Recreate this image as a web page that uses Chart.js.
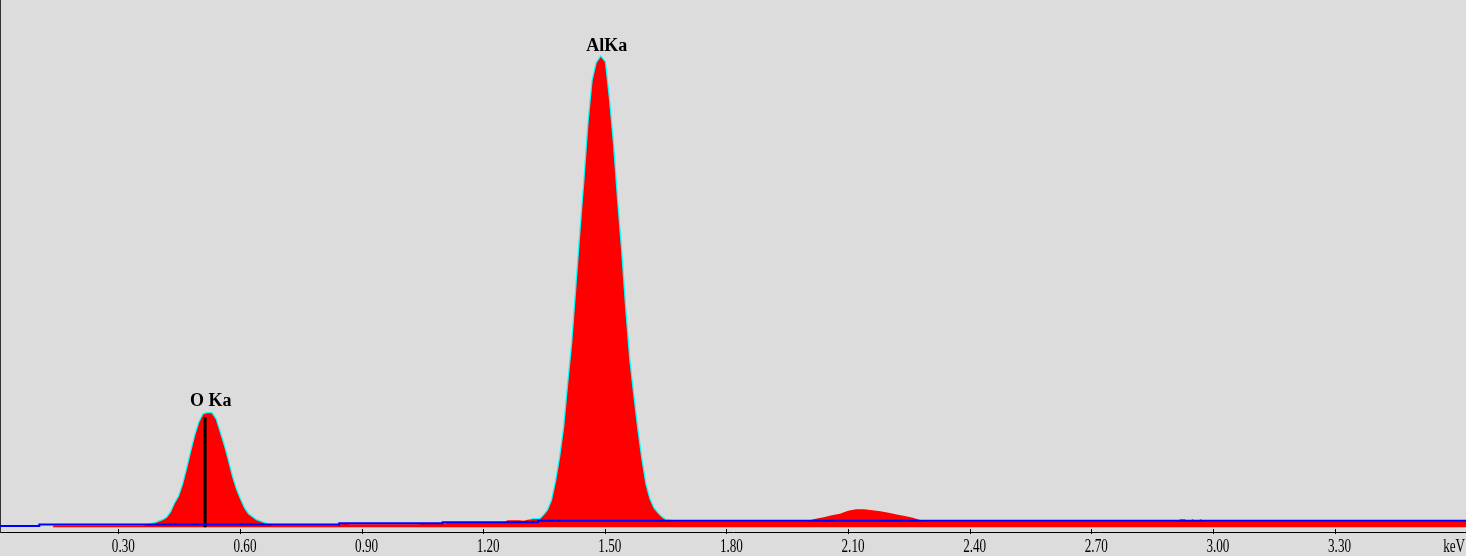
<!DOCTYPE html>
<html>
<head>
<meta charset="utf-8">
<script src="https://cdn.jsdelivr.net/npm/chart.js@4.4.1/dist/chart.umd.min.js"></script>
<style>
  html, body { margin: 0; padding: 0; background: #dcdcdc; overflow: hidden; }
  canvas { display: block; }
</style>
</head>
<body>
<canvas id="eds" width="1466" height="556"></canvas>
<script>
// spectrum (keV / counts)
const spectrumEnergy = [
  0.138, 0.14, 0.36,
  0.37, 0.38, 0.39, 0.40, 0.41, 0.42, 0.43, 0.44, 0.45, 0.46, 0.47, 0.48, 0.49, 0.50, 0.51, 0.52,
  0.53, 0.54, 0.55, 0.56, 0.57, 0.58, 0.59, 0.60, 0.61, 0.62, 0.63, 0.64, 0.65, 0.66, 0.67,
  0.68, 0.84, 0.85, 0.86, 0.87, 1.04, 1.05, 1.10, 1.11, 1.25,
  1.26, 1.27, 1.28, 1.29, 1.30, 1.31, 1.32, 1.33,
  1.34, 1.35, 1.36, 1.37, 1.38, 1.39, 1.40, 1.41, 1.42, 1.43, 1.44, 1.45, 1.46, 1.47, 1.48, 1.49, 1.50,
  1.51, 1.52, 1.53, 1.54, 1.55, 1.56, 1.57, 1.58, 1.59, 1.60, 1.61, 1.62, 1.63, 1.64, 1.65, 1.66,
  1.67, 2.00, 2.01,
  2.02, 2.04, 2.06, 2.08, 2.10, 2.12, 2.14, 2.16, 2.18, 2.20, 2.22, 2.24, 2.26, 2.28,
  2.29, 2.91, 2.92, 2.93, 2.94, 2.95, 2.96, 2.97, 2.98, 3.63
];
const spectrumCounts = [
  0, 17, 17,
  20, 30, 40, 55, 70, 95, 150, 240, 310, 430, 590, 760, 920, 1050, 1130, 1140,
  1140, 1080, 950, 820, 670, 510, 380, 280, 190, 130, 100, 70, 55, 40, 25,
  20, 20, 30, 40, 30, 30, 35, 35, 43, 43,
  70, 70, 70, 70, 65, 75, 80, 80,
  80, 120, 170, 270, 460, 700, 1000, 1440, 1850, 2400, 2950, 3470, 4040, 4460, 4640, 4700, 4650,
  4280, 3830, 3270, 2770, 2190, 1680, 1320, 980, 680, 430, 280, 190, 140, 100, 70, 65,
  60, 60, 75,
  85, 100, 120, 135, 165, 180, 180, 170, 160, 145, 127, 113, 95, 70,
  60, 60, 80, 80, 60, 80, 60, 80, 60, 60
];

// background line
const backgroundEnergy = [0, 0.105, 0.845, 1.10, 1.335, 3.63];
const backgroundCounts = [14, 27, 40, 50, 65, 65];

// ranges where the fitted outline is shown
const fitRanges = [[0.36, 0.68], [1.32, 1.67]];

// O Ka marker
const markerEnergy = [0.514, 0.514];
const markerCounts = [0, 1100];

// peak labels
const peakLabels = ['O Ka', 'AlKa'];
const peakLabelEnergy = [0.528, 1.505];
const peakLabelCounts = [1210, 4763];

// x axis ticks
const tickValues = [0.30, 0.60, 0.90, 1.20, 1.50, 1.80, 2.10, 2.40, 2.70, 3.00, 3.30, 3.60];
const tickLabels = ['0.30', '0.60', '0.90', '1.20', '1.50', '1.80', '2.10', '2.40', '2.70', '3.00', '3.30', 'keV'];

const specData = spectrumEnergy.map((e, i) => ({ x: e, y: spectrumCounts[i] }));
const bgData = backgroundEnergy.map((e, i) => ({ x: e, y: backgroundCounts[i] }));
const markerData = markerEnergy.map((e, i) => ({ x: e, y: markerCounts[i] }));
const fitData = [];
fitRanges.forEach(([a, b]) => {
  specData.forEach(p => { if (p.x >= a && p.x <= b) fitData.push(p); });
  fitData.push({ x: b + 0.001, y: null });
});

// narrow serif tick labels + short ticks crossing the axis
const xAxisLabels = {
  id: 'xAxisLabels',
  afterDraw(chart) {
    const { ctx, chartArea, scales: { x } } = chart;
    ctx.save();
    ctx.strokeStyle = '#000';
    ctx.fillStyle = '#000';
    ctx.lineWidth = 1;
    ctx.font = '18px "Liberation Serif"';
    ctx.textAlign = 'center';
    ctx.textBaseline = 'middle';
    x.ticks.forEach((t, i) => {
      const px = x.getPixelForValue(t.value);
      const isUnit = tickLabels[i] === 'keV';
      if (!isUnit) {
        const tx = Math.round(px) + 0.5;
        ctx.beginPath();
        ctx.moveTo(tx, chartArea.bottom - 3);
        ctx.lineTo(tx, chartArea.bottom + 2);
        ctx.stroke();
      }
      ctx.save();
      ctx.translate(px + (isUnit ? -2 : 5), chartArea.bottom + 15);
      ctx.scale(0.73, 1);
      ctx.fillText(tickLabels[i], 0, 0);
      ctx.restore();
    });
    ctx.restore();
  }
};

const peakLabelPlugin = {
  id: 'peakLabels',
  afterDatasetsDraw(chart) {
    const { ctx, scales: { x, y } } = chart;
    ctx.save();
    ctx.font = 'bold 18px "Liberation Serif"';
    ctx.fillStyle = '#000';
    ctx.textAlign = 'center';
    ctx.textBaseline = 'alphabetic';
    peakLabels.forEach((t, i) => {
      ctx.fillText(t, x.getPixelForValue(peakLabelEnergy[i]), y.getPixelForValue(peakLabelCounts[i]));
    });
    ctx.restore();
  }
};

const ctx = document.getElementById('eds').getContext('2d');
new Chart(ctx, {
  type: 'line',
  data: {
    datasets: [
      { label: 'Background', data: bgData, borderColor: '#0000ff', borderWidth: 2, stepped: 'before', pointRadius: 0, fill: false, order: 0 },
      { label: 'O Ka marker', data: markerData, borderColor: '#000000', borderWidth: 3, pointRadius: 0, fill: false, order: 1 },
      { label: 'Spectrum', data: specData, borderColor: 'rgba(0,0,0,0)', borderWidth: 1, backgroundColor: '#ff0000', fill: 'origin', pointRadius: 0, order: 2 },
      { label: 'Fit', data: fitData, borderColor: '#00ffff', borderWidth: 2.5, pointRadius: 0, fill: false, spanGaps: false, order: 3 }
    ]
  },
  options: {
    responsive: false,
    animation: false,
    layout: { padding: { left: 0, right: 0, top: 0, bottom: 24 } },
    plugins: { legend: { display: false }, tooltip: { enabled: false } },
    scales: {
      x: {
        type: 'linear',
        min: 0.0081,
        max: 3.6243,
        afterBuildTicks: scale => { scale.ticks = tickValues.map(v => ({ value: v })); },
        grid: { display: false, drawTicks: false },
        border: { display: true, color: '#000', width: 1 },
        ticks: { display: false }
      },
      y: {
        min: -47,
        max: 5270,
        ticks: { display: false },
        grid: { display: false, drawTicks: false },
        border: { display: true, color: '#333', width: 2 }
      }
    }
  },
  plugins: [xAxisLabels, peakLabelPlugin]
});
</script>
</body>
</html>
